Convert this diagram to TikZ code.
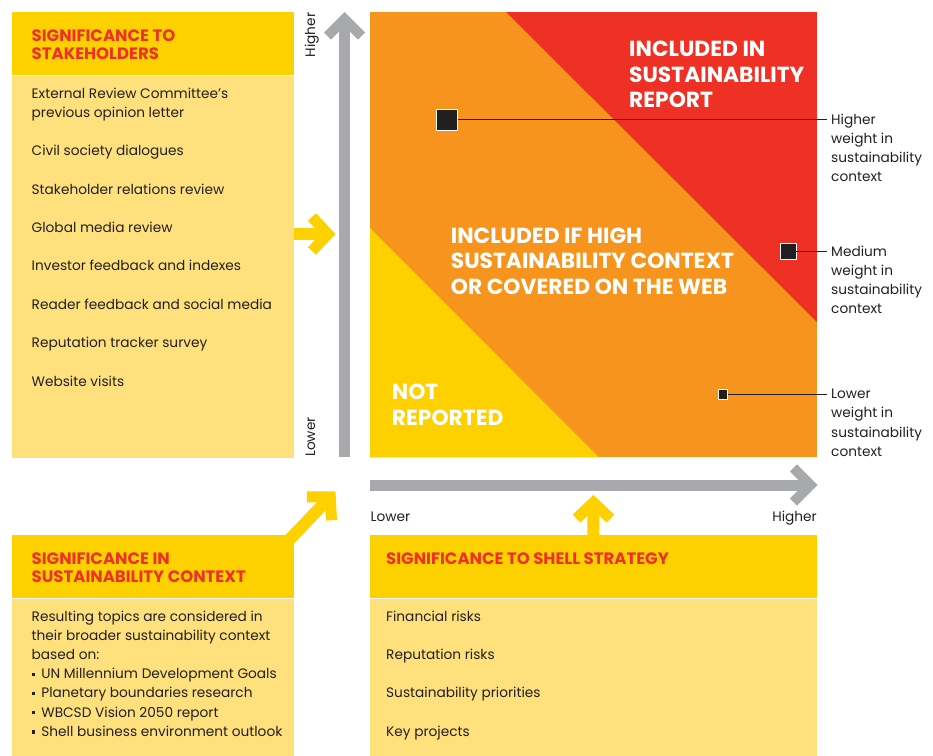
\documentclass[tikz,border=0pt]{standalone}
\usepackage{fontspec}
\setmainfont{Poppins}
\usetikzlibrary{arrows.meta, positioning}
\definecolor{cYel}{RGB}{253,208,0}
\definecolor{cPale}{RGB}{254,224,125}
\definecolor{cOrg}{RGB}{247,148,30}
\definecolor{cRed}{RGB}{238,49,36}
\definecolor{cGry}{RGB}{167,169,172}
\definecolor{cInk}{RGB}{35,31,32}
\newcommand{\bul}{\rule[2.6pt]{3.2pt}{3.2pt}\hspace{6.5pt}}

\begin{document}
\begin{tikzpicture}[x=1pt, y=-1pt,
          hd/.style={fill=cYel, inner sep=0, anchor=north west, minimum height=63pt},
          bd/.style={fill=cPale, inner sep=0, anchor=north west},
          ttl/.style={anchor=north west, inner sep=0, align=left, text=cRed,
                      font=\fontsize{16.5}{18.2}\selectfont\bfseries},
          txt/.style={anchor=north west, inner sep=0, align=left, text=cInk,
                      font=\fontsize{13.7}{19.2}\selectfont},
          big/.style={anchor=north west, inner sep=0, align=left, text=white,
                      font=\fontsize{21.8}{25.3}\selectfont\bfseries},
          lbl/.style={inner sep=0, text=cInk, font=\fontsize{13.7}{19.2}\selectfont},
          sq/.style={fill=cInk, draw=white, line width=0.8pt, inner sep=0},
          ld/.style={cInk, line width=0.9pt, shorten >=4pt},
          ax/.style={cGry, line width=11pt, -{Straight Barb[length=17pt, width=34pt, line width=10pt]}},
          ya/.style={cYel, line width=12pt, -{Straight Barb[length=16pt, width=34pt, line width=11pt]}}]
        \useasboundingbox (0,0) rectangle (933,755);

        \node[fill=cOrg, inner sep=0, anchor=north west, minimum width=446.5pt, minimum height=445pt] (mat) at (370,12) {};
        \fill[cRed] ([xshift=136pt]mat.north west) -- (mat.north east) -- ([yshift=-310pt]mat.north east) -- cycle;
        \fill[cYel] ([yshift=-216pt]mat.north west) -- (mat.south west) -- ([xshift=229pt]mat.south west) -- cycle;
        \node[big] (inc) at (629,41.2) {INCLUDED IN\\SUSTAINABILITY\\REPORT};
        \node[big] (web) at (450.7,228) {INCLUDED IF HIGH\\SUSTAINABILITY CONTEXT\\OR COVERED ON THE WEB};
        \node[big] (not) at (391.7,384) {NOT\\REPORTED};

        \node[sq, minimum size=20.5pt] (sqH) at (447,119.7) {};
        \node[sq, minimum size=16pt] (sqM) at (788,251) {};
        \node[sq, minimum size=9.5pt] (sqL) at (723,394.3) {};
        \node[lbl, anchor=north west, align=left] (lbH) at (831,113.5) {Higher\\weight in\\sustainability\\context};
        \node[lbl, anchor=north west, align=left] (lbM) at (831,245.5) {Medium\\weight in\\sustainability\\context};
        \node[lbl, anchor=north west, align=left] (lbL) at (831,389) {Lower\\weight in\\sustainability\\context};
        \draw[ld] (sqH.east) -- (sqH.east -| lbH.west);
        \draw[ld] (sqM.east) -- (sqM.east -| lbM.west);
        \draw[ld] (sqL.east) -- (sqL.east -| lbL.west);

        \coordinate (yLo) at (344.5,457);
        \coordinate (yHi) at (344.5,12);
        \coordinate (xLo) at (370,485);
        \coordinate (xHi) at (817.5,485);
        \draw[ax] (yLo) -- (yHi);
        \draw[ax] (xLo) -- (xHi);
        \node[lbl, rotate=90, anchor=base east] (yHiL) at (315,12.5) {Higher};
        \node[lbl, rotate=90, anchor=base west] (yLoL) at (315,457) {Lower};
        \node[lbl, anchor=base west] (xLoL) at (370.5,521.5) {Lower};
        \node[lbl, anchor=base east] (xHiL) at (817,521.5) {Higher};

        \coordinate (yIn) at (335.5,234);
        \coordinate (dIn) at (335.5,491.5);
        \coordinate (xIn) at (593.5,495);

        \node[hd, minimum width=282pt] (stkH) at (12,12) {};
        \node[bd, minimum width=282pt, minimum height=382pt] (stkB) at (stkH.south west) {};
        \node[ttl] (stkT) at ([shift={(19.5,17.3)}]stkH.north west) {SIGNIFICANCE TO\\STAKEHOLDERS};
        \node[txt] (stkL) at ([shift={(19.5,12)}]stkB.north west)
          {External Review Committee’s\\previous opinion letter\\[19.2pt]Civil society dialogues\\[19.2pt]Stakeholder relations review\\[19.2pt]Global media review\\[19.2pt]Investor feedback and indexes\\[19.2pt]Reader feedback and social media\\[19.2pt]Reputation tracker survey\\[19.2pt]Website visits};
        \draw[ya] (yIn -| stkB.east) -- (yIn);

        \draw[ya] ([shift={(-5,5)}]12+282,535) -- (dIn);
        \node[hd, minimum width=282pt] (ctxH) at (12,535) {};
        \node[bd, minimum width=282pt, minimum height=157pt] (ctxB) at (ctxH.south west) {};
        \node[ttl] (ctxT) at ([shift={(19.5,17.5)}]ctxH.north west) {SIGNIFICANCE IN\\SUSTAINABILITY CONTEXT};
        \node[txt] (ctxL) at ([shift={(19.5,12)}]ctxB.north west)
          {Resulting topics are considered in\\their broader sustainability context\\based on:\\\bul UN Millennium Development Goals\\\bul Planetary boundaries research\\\bul WBCSD Vision 2050 report\\\bul Shell business environment outlook};

        \node[hd, minimum width=446.5pt] (shlH) at (370,535) {};
        \node[bd, minimum width=446.5pt, minimum height=157pt] (shlB) at (shlH.south west) {};
        \node[ttl] (shlT) at ([shift={(16,17.8)}]shlH.north west) {SIGNIFICANCE TO SHELL STRATEGY};
        \node[txt] (shlL) at ([shift={(16,12)}]shlB.north west)
          {Financial risks\\[19.2pt]Reputation risks\\[19.2pt]Sustainability priorities\\[19.2pt]Key projects};
        \draw[ya] (shlH.north) -- (xIn);
      \end{tikzpicture}
\end{document}
